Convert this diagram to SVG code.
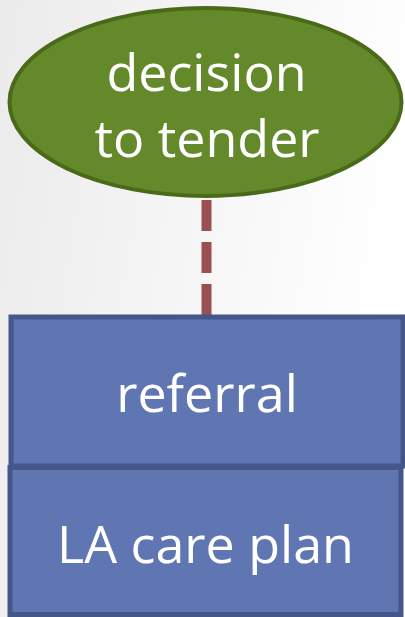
<svg xmlns="http://www.w3.org/2000/svg" width="405" height="617" viewBox="0 0 405 617">
<defs>
<linearGradient id="bg" x1="0" y1="0" x2="1" y2="0.25">
<stop offset="0" stop-color="#ebebeb"/>
<stop offset="1" stop-color="#ffffff"/>
</linearGradient>
</defs>
<style>
.lbl{font-family:"Open Sans","Noto Sans","DejaVu Sans",sans-serif;font-size:52px;fill:#ffffff;text-anchor:middle}
.box{fill:#6076b2;stroke:#45578a;stroke-width:5}
.conn{stroke:#9a5050;stroke-width:10;stroke-dasharray:31 11;fill:none}
</style>
<rect x="0" y="0" width="405" height="617" fill="url(#bg)"/>
<g id="connectors">
<line class="conn" x1="206.5" y1="200" x2="206.5" y2="316"/>
</g>
<g id="decision">
<ellipse cx="205.5" cy="102" rx="196" ry="94" fill="#64892a" stroke="#4a6a1a" stroke-width="4"/>
<text class="lbl" x="206.5" y="91">decision</text>
<text class="lbl" x="207" y="157">to tender</text>
</g>
<g id="referral">
<rect class="box" x="11" y="317" width="392" height="149"/>
<text class="lbl" x="207" y="412">referral</text>
</g>
<g id="careplan">
<rect class="box" x="10" y="467.5" width="391" height="147"/>
<text class="lbl" x="205.5" y="563">LA care plan</text>
</g>
</svg>
